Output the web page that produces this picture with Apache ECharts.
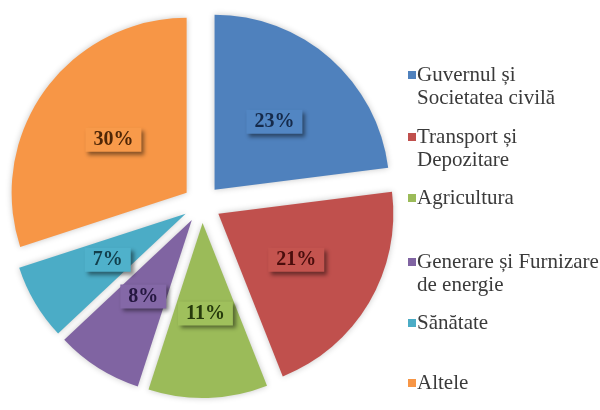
<!DOCTYPE html>
<html>
<head>
<meta charset="utf-8">
<script src="https://cdn.jsdelivr.net/npm/echarts@6/dist/echarts.min.js"></script>
<style>
  html, body { margin: 0; padding: 0; background: #ffffff; }
  #chart { width: 600px; height: 410px; }
</style>
</head>
<body>
<div id="chart"></div>
<script>
// Sector names (second line after \n), shares in percent, colours
const categories = [
  'Guvernul și\nSocietatea civilă',
  'Transport și\nDepozitare',
  'Agricultura',
  'Generare și Furnizare\nde energie',
  'Sănătate',
  'Altele'
];
const shares = [23, 21, 11, 8, 7, 30];
const sliceColors = ['#4f81bd', '#c0504d', '#9bbb59', '#8064a2', '#4bacc6', '#f79646'];
const labelBoxColors = ['#5286c3', '#c4544f', '#9fc05c', '#8468a7', '#4fb1cb', '#f89a4a'];
const labelTextColors = ['#152a4a', '#4a0d0c', '#263a0c', '#251740', '#123f4c', '#4f2606'];

// Vertical centre of each legend entry's first line
const legendLineY = [75, 137, 198, 262, 323, 383];
const legendTextX = 417;
const lineStep = 23;

const serif = '"Liberation Serif", "Times New Roman", serif';
const legendFontSize = 21;

const chart = echarts.init(document.getElementById('chart'), null, { renderer: 'canvas' });

const data = categories.map((name, i) => ({
  name: name,
  value: shares[i],
  selected: true,
  itemStyle: { color: sliceColors[i] },
  label: {
    backgroundColor: labelBoxColors[i],
    color: labelTextColors[i]
  }
}));

// One legend per entry so each can sit at its own height; only the first line goes in the legend
const legends = categories.map((name, i) => ({
  data: [name],
  orient: 'vertical',
  left: 408,
  top: legendLineY[i] - 12,
  padding: 0,
  itemWidth: 8,
  itemHeight: 8,
  icon: 'rect',
  selectedMode: false,
  formatter: n => n.split('\n')[0],
  textStyle: { fontFamily: serif, fontSize: legendFontSize, color: '#3a3a3a', lineHeight: 24, padding: [0, 0, 0, -4] }
}));

// Continuation lines of the wrapped legend entries
const extraLines = [];
categories.forEach((name, i) => {
  name.split('\n').slice(1).forEach((line, k) => {
    extraLines.push({
      type: 'text',
      left: legendTextX,
      top: legendLineY[i] + lineStep * (k + 1) - 12,
      style: { text: line, font: legendFontSize + 'px ' + serif, fill: '#3a3a3a', lineHeight: 24 }
    });
  });
});

chart.setOption({
  animation: false,
  backgroundColor: '#ffffff',
  legend: legends,
  graphic: extraLines,
  series: [{
    type: 'pie',
    center: [202, 204],
    radius: 175,
    startAngle: 90,
    clockwise: true,
    selectedMode: 'multiple',
    selectedOffset: 19,
    avoidLabelOverlap: false,
    emphasis: { disabled: true },
    itemStyle: {
      shadowBlur: 6,
      shadowColor: 'rgba(0,0,0,0.22)'
    },
    label: {
      show: true,
      position: 'inside',
      formatter: '{c}%',
      fontFamily: serif,
      fontWeight: 'bold',
      fontSize: 20,
      padding: [3, 8, 1, 8],
      shadowColor: 'rgba(0,0,0,0.45)',
      shadowBlur: 4,
      shadowOffsetX: 3,
      shadowOffsetY: 3
    },
    labelLine: { show: false },
    data: data
  }]
});
</script>
</body>
</html>
